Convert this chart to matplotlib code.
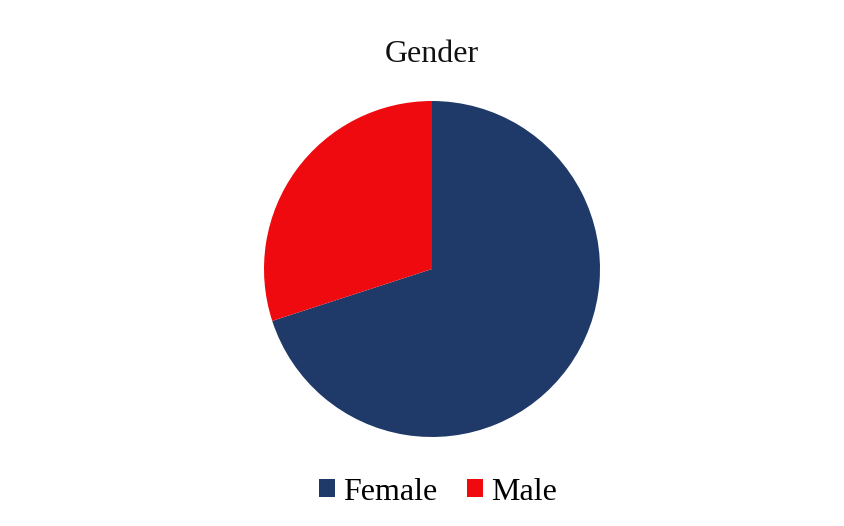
import matplotlib
matplotlib.use("Agg")
import matplotlib.pyplot as plt
from matplotlib.patches import Patch

categories = ["Female", "Male"]
values = [70, 30]
colors = ["#1F3A68", "#EE0A0E"]
title = "Gender"

plt.rcParams['font.family'] = ['Liberation Serif', 'DejaVu Serif']

fig = plt.figure(figsize=(8.44, 5.26), dpi=100)
fig.patch.set_facecolor("white")

ax = fig.add_axes([0.3128, 0.1692, 0.3981, 0.6388])
ax.pie(values, colors=colors, startangle=90, counterclock=False,
       wedgeprops=dict(linewidth=0), radius=1.0)
ax.set_xlim(-1, 1)
ax.set_ylim(-1, 1)
ax.set_aspect("equal")
ax.axis("off")

fig.text(432 / 844, 1 - 55 / 526, title, ha="center", va="center", fontsize=23, color="#111111")

handles = [Patch(facecolor=c, edgecolor="none") for c in colors]
fig.legend(handles, categories, loc="center", bbox_to_anchor=(438 / 844, 1 - 492 / 526),
           ncol=2, frameon=False, fontsize=23, handlelength=0.5, handleheight=0.5,
           handletextpad=0.25, columnspacing=0.95)

fig.savefig("out.png", dpi=100)
